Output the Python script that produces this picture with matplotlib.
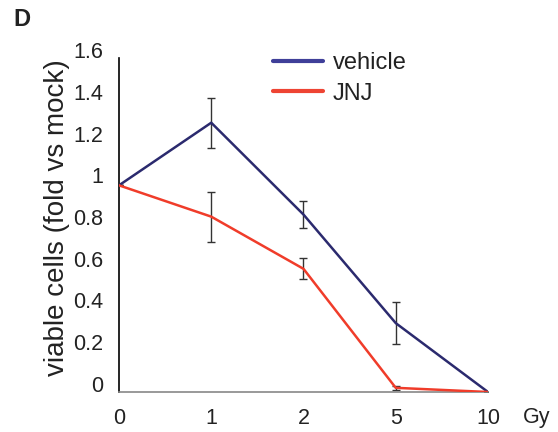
import matplotlib
matplotlib.use("Agg")
import matplotlib.pyplot as plt

doses = ["0", "1", "2", "5", "10"]
vehicle = [0.99, 1.29, 0.85, 0.33, 0.0]
vehicle_err = [0.0, 0.12, 0.065, 0.10, 0.0]
jnj = [0.99, 0.84, 0.59, 0.02, 0.0]
jnj_err = [0.0, 0.12, 0.05, 0.01, 0.0]
yticks = [0, 0.2, 0.4, 0.6, 0.8, 1, 1.2, 1.4, 1.6]
ytick_labels = ["0", "0.2", "0.4", "0.6", "0.8", "1", "1.2", "1.4", "1.6"]

plt.rcParams['font.family'] = ['Liberation Sans', 'DejaVu Sans']
fig = plt.figure(figsize=(5.58, 4.32), dpi=100)
ax = fig.add_axes([119/558, 1-392/432, (488-119)/558, (392-58)/432])

x = list(range(len(doses)))
ax.errorbar(x, vehicle, yerr=vehicle_err, fmt='none', ecolor='#333333', elinewidth=1, capsize=3, capthick=1, zorder=1)
ax.errorbar(x, jnj, yerr=jnj_err, fmt='none', ecolor='#333333', elinewidth=1, capsize=3, capthick=1, zorder=1)
ax.plot(x, vehicle, color='#2B2A6E', lw=1.8, zorder=3)
ax.plot(x, jnj, color='#F03C2A', lw=1.8, zorder=4)

ax.set_xlim(0, 4)
ax.set_ylim(0, 1.6)
ax.set_xticks(x)
ax.set_xticklabels(doses, fontsize=15.5, color='#222222')
ax.set_yticks(yticks)
ax.set_yticklabels(ytick_labels, fontsize=15.5, color='#222222')
ax.tick_params(length=0)
ax.tick_params(axis='x', pad=11.5)
ax.tick_params(axis='y', pad=11.5)
for lbl in ax.get_yticklabels():
    lbl.set_verticalalignment('baseline')
ax.spines['top'].set_visible(False)
ax.spines['right'].set_visible(False)
ax.spines['left'].set_color('black')
ax.spines['bottom'].set_color('#888888')
ax.spines['left'].set_linewidth(1.2)
ax.spines['bottom'].set_linewidth(1.2)

fig.text(57/558, 1-218/432, "viable cells (fold vs mock)", fontsize=20, rotation=90,
         ha='center', va='center', color='#222222')

ax.plot([], [], color='#3F3F99', lw=3, solid_capstyle='round', label='vehicle')
ax.plot([], [], color='#EE4433', lw=3, solid_capstyle='round', label='JNJ')
handles, labels = ax.get_legend_handles_labels()
leg = ax.legend(handles[-2:], labels[-2:], loc='upper left',
                bbox_to_anchor=(273/558, 1-52/432), bbox_transform=fig.transFigure,
                frameon=False, fontsize=17, handlelength=2.12, handletextpad=0.42,
                labelspacing=0.36, borderpad=0, borderaxespad=0)
for t in leg.get_texts():
    t.set_color('#222222')

fig.text(537/558, 1-423/432, "Gy", fontsize=15.5, ha='center', va='baseline', color='#222222')
fig.text(22/558, 1-19/432, "D", fontsize=17, fontweight='bold', ha='center', va='center', color='#222222')

fig.savefig("out.png", dpi=100)
